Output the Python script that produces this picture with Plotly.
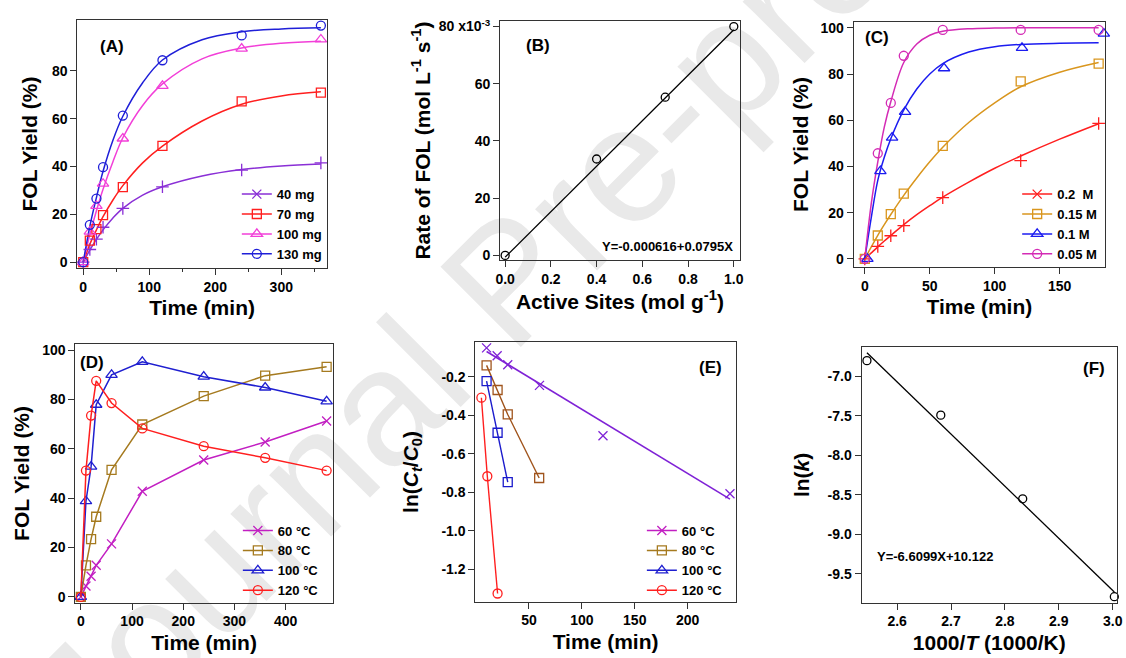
import plotly.graph_objects as go

W, H = 1126, 658
FONT = "Liberation Sans"

# ---------------- data ----------------
# (A) catalyst loading
a_time = [0, 10, 20, 30, 60, 120, 240, 360]
a_40mg = [0, 5.3, 9.6, 14.6, 22.5, 31.5, 38.5, 41.5]
a_70mg = [0, 9.0, 13.8, 19.7, 31.4, 48.6, 67.2, 70.9]
a_100mg = [0, 12.8, 23.5, 32.8, 51.7, 73.7, 89.3, 93.1]
a_130mg = [0, 15.6, 26.6, 39.7, 61.3, 84.4, 94.8, 98.9]
a_fit_time = [0, 10, 20, 30, 45, 60, 90, 120, 180, 240, 300, 360]
a_fit_40mg = [0, 5.0, 9.5, 13.5, 18.5, 22.5, 28.0, 31.5, 36.0, 38.7, 40.2, 41.0]
a_fit_70mg = [0, 7.5, 13.5, 19.0, 26.0, 32.0, 41.5, 48.5, 59.0, 66.0, 69.5, 71.2]
a_fit_100mg = [0, 11.5, 21.5, 30.5, 42.0, 52.0, 65.5, 74.5, 85.0, 89.5, 91.5, 92.3]
a_fit_130mg = [0, 15.0, 27.0, 38.0, 51.0, 61.0, 75.0, 84.5, 93.0, 96.3, 97.5, 98.0]

# (B) rate vs active sites (x1e-3)
b_sites = [0.0, 0.4, 0.7, 1.0]
b_rate = [0.0, 33.7, 55.3, 80.0]
b_fit_sites = [0.0, 1.0]
b_fit_rate = [-0.616, 78.9]

# (C) concentration
c_time = [0, 10, 20, 30, 60, 120, 180]
c_time_01 = [2, 12, 21, 31, 61, 121, 184]
c_02M = [0, 5.4, 10.0, 14.4, 26.5, 42.5, 58.6]
c_015M = [0, 10.1, 19.4, 28.2, 48.9, 76.8, 84.5]
c_01M = [0, 38.0, 52.5, 63.6, 82.5, 91.3, 97.5]
c_005M = [0, 45.7, 67.5, 87.9, 99.1, 99.1, 99.1]
c_fit_time = [0, 5, 10, 15, 20, 30, 40, 50, 60, 80, 100, 120, 150, 180]
c_fit_02M = [0, 2.6, 5.2, 7.7, 10.1, 14.8, 19.1, 23.0, 26.7, 33.2, 39.2, 44.5, 51.8, 58.5]
c_fit_015M = [0, 5.2, 10.2, 14.8, 19.2, 27.5, 35.0, 42.0, 48.3, 59.0, 67.5, 74.5, 80.8, 85.0]
c_fit_01M = [0, 18.0, 34.0, 44.0, 52.0, 64.5, 73.5, 80.0, 84.5, 89.5, 91.8, 92.8, 93.3, 93.5]
c_fit_005M = [0, 24.0, 42.0, 57.0, 68.0, 85.0, 93.0, 96.8, 98.5, 99.6, 99.9, 100.0, 100.0, 100.0]

# (D) temperature
d_time = [0, 10, 20, 30, 60, 120, 240, 360, 480]
d_60C = [0, 4.4, 8.4, 12.8, 21.5, 42.8, 55.5, 62.8, 71.3]
d_80C = [0, 12.8, 23.4, 32.5, 51.5, 69.9, 81.4, 89.7, 93.3]
d_100C = [0, 38.8, 52.8, 77.9, 90.0, 95.3, 89.3, 84.9, 79.3]
d_120C = [0, 51.2, 73.5, 87.6, 78.6, 68.3, 61.1, 56.4, 51.2]

# (E) ln(Ct/C0)
e_time_60C = [10, 20, 30, 60, 120, 240]
e_60C = [-0.049, -0.090, -0.137, -0.244, -0.506, -0.807]
e_fit_time_60C = [10, 240]
e_fit_60C = [-0.068, -0.835]
e_time_80C = [10, 20.4, 30, 59.7]
e_80C = [-0.140, -0.268, -0.395, -0.725]
e_time_100C = [10, 20.4, 30]
e_100C = [-0.222, -0.490, -0.747]
e_time_120C = [5.1, 10.7, 20.4]
e_120C = [-0.308, -0.716, -1.325]

# (F) Arrhenius
f_invT = [2.544, 2.681, 2.833, 3.003]
f_lnk = [-6.80, -7.49, -8.55, -9.79]
f_fit_invT = [2.544, 3.003]
f_fit_lnk = [-6.70, -9.73]

# tick labels
a_xticks = [0, 100, 200, 300]
a_yticks = [0, 20, 40, 60, 80]
b_xticks = [0.0, 0.2, 0.4, 0.6, 0.8, 1.0]
b_xticktext = ["0.0", "0.2", "0.4", "0.6", "0.8", "1.0"]
b_yticks = [0, 20, 40, 60, 80]
b_yticktext = ["0", "20", "40", "60", "80 x10<sup>-3</sup>"]
c_xticks = [0, 50, 100, 150]
c_yticks = [0, 20, 40, 60, 80, 100]
d_xticks = [0, 100, 200, 300, 400]
d_yticks = [0, 20, 40, 60, 80, 100]
e_xticks = [50, 100, 150, 200]
e_yticks = [-1.2, -1.0, -0.8, -0.6, -0.4, -0.2]
e_yticktext = ["-1.2", "-1.0", "-0.8", "-0.6", "-0.4", "-0.2"]
f_xticks = [2.6, 2.7, 2.8, 2.9, 3.0]
f_xticktext = ["2.6", "2.7", "2.8", "2.9", "3.0"]
f_yticks = [-9.5, -9.0, -8.5, -8.0, -7.5, -7.0]
f_yticktext = ["-9.5", "-9.0", "-8.5", "-8.0", "-7.5", "-7.0"]

# ---------------- layout helpers ----------------
def xd(p0, p1):
    return [p0 / W, p1 / W]

def yd(top, bottom):
    return [1 - bottom / H, 1 - top / H]

fig = go.Figure()

def mk(symbol, color, size=9, lw=1.3):
    return dict(symbol=symbol, size=size, color=color, line=dict(color=color, width=lw))

def data_tr(x, y, ax, symbol, color, mode="markers", size=9, lw=1.4, name="data"):
    fig.add_trace(go.Scatter(x=x, y=y, mode=mode, xaxis="x" + ax, yaxis="y" + ax,
                             marker=mk(symbol, color, size), line=dict(color=color, width=lw),
                             showlegend=False, cliponaxis=False, name=name))

def fit_tr(x, y, ax, color, shape="linear", lw=1.5):
    fig.add_trace(go.Scatter(x=x, y=y, mode="lines", xaxis="x" + ax, yaxis="y" + ax,
                             line=dict(color=color, width=lw, shape=shape, smoothing=1.0),
                             showlegend=False, hoverinfo="skip", name="fit"))

def leg_tr(name, ax, symbol, color, legend, size=9):
    fig.add_trace(go.Scatter(x=[None], y=[None], mode="lines+markers", name=name,
                             xaxis="x" + ax, yaxis="y" + ax, legend=legend,
                             marker=mk(symbol, color, size), line=dict(color=color, width=1.5)))

# colours
A_C = {"40": "#8a2fd6", "70": "#ff1f1f", "100": "#f23fd8", "130": "#1f1fd8"}
C_C = {"02": "#ff1f1f", "015": "#d9961e", "01": "#1c1cf0", "005": "#d42bb5"}
D_C = {"60": "#c21fc2", "80": "#a57a1f", "100": "#1f1fd0", "120": "#ff1f1f"}
E_C = {"60": "#7f22d6", "80": "#a0541c", "100": "#1a1acc", "120": "#ff1f1f"}

# ---- (A) ----
for fy, c in [(a_fit_40mg, A_C["40"]), (a_fit_70mg, A_C["70"]),
              (a_fit_100mg, A_C["100"]), (a_fit_130mg, A_C["130"])]:
    fit_tr(a_fit_time, fy, "", c, shape="spline")
data_tr(a_time, a_40mg, "", "cross-thin", A_C["40"], size=9)
data_tr(a_time, a_70mg, "", "square-open", A_C["70"])
data_tr(a_time, a_100mg, "", "triangle-up-open", A_C["100"], size=10)
data_tr(a_time, a_130mg, "", "circle-open", A_C["130"])
leg_tr("40 mg", "", "x-thin", A_C["40"], "legend")
leg_tr("70 mg", "", "square-open", A_C["70"], "legend")
leg_tr("100 mg", "", "triangle-up-open", A_C["100"], "legend", size=10)
leg_tr("130 mg", "", "circle-open", A_C["130"], "legend")

# ---- (B) ----
fit_tr(b_fit_sites, b_fit_rate, "2", "black", lw=1.3)
data_tr(b_sites, b_rate, "2", "circle-open", "black", size=8)

# ---- (C) ----
for fy, c in [(c_fit_02M, C_C["02"]), (c_fit_015M, C_C["015"]),
              (c_fit_01M, C_C["01"]), (c_fit_005M, C_C["005"])]:
    fit_tr(c_fit_time, fy, "3", c, shape="spline")
data_tr(c_time, c_02M, "3", "cross-thin", C_C["02"])
data_tr(c_time, c_015M, "3", "square-open", C_C["015"])
data_tr(c_time_01, c_01M, "3", "triangle-up-open", C_C["01"], size=10)
data_tr(c_time, c_005M, "3", "circle-open", C_C["005"])
leg_tr("0.2  M", "3", "x-thin", C_C["02"], "legend2")
leg_tr("0.15 M", "3", "square-open", C_C["015"], "legend2")
leg_tr("0.1 M", "3", "triangle-up-open", C_C["01"], "legend2", size=10)
leg_tr("0.05 M", "3", "circle-open", C_C["005"], "legend2")

# ---- (D) ----
for nm, yv, sym, key, sz in [("60 °C", d_60C, "x-thin", "60", 9),
                             ("80 °C", d_80C, "square-open", "80", 9),
                             ("100 °C", d_100C, "triangle-up-open", "100", 10),
                             ("120 °C", d_120C, "circle-open", "120", 9)]:
    fig.add_trace(go.Scatter(x=d_time, y=yv, mode="lines+markers", name=nm,
                             xaxis="x4", yaxis="y4", legend="legend3", cliponaxis=False,
                             marker=mk(sym, D_C[key], sz), line=dict(color=D_C[key], width=1.5)))

# ---- (E) ----
fit_tr(e_fit_time_60C, e_fit_60C, "5", E_C["60"], lw=1.6)
data_tr(e_time_60C, e_60C, "5", "x-thin", E_C["60"])
data_tr(e_time_80C, e_80C, "5", "square-open", E_C["80"], mode="lines+markers")
data_tr(e_time_100C, e_100C, "5", "square-open", E_C["100"], mode="lines+markers")
data_tr(e_time_120C, e_120C, "5", "circle-open", E_C["120"], mode="lines+markers")
leg_tr("60 °C", "5", "x-thin", D_C["60"], "legend4")
leg_tr("80 °C", "5", "square-open", D_C["80"], "legend4")
leg_tr("100 °C", "5", "triangle-up-open", D_C["100"], "legend4", size=10)
leg_tr("120 °C", "5", "circle-open", D_C["120"], "legend4")

# ---- (F) ----
fit_tr(f_fit_invT, f_fit_lnk, "6", "black", lw=1.3)
data_tr(f_invT, f_lnk, "6", "circle-open", "black", size=8)

# ---------------- axes ----------------
TICKF = dict(family=FONT, size=14, color="black", weight="bold")
TITLEF = dict(family=FONT, size=21, color="black", weight="bold")

def axis(domain, rng, tickvals, ticktext=None, title="", anchor="", minor_vals=None, standoff=6):
    d = dict(domain=domain, range=rng, tickvals=tickvals, ticks="outside", ticklen=6,
             tickcolor="#333", tickwidth=1, showline=True, linecolor="#333", linewidth=1,
             mirror=True, showgrid=False, zeroline=False, tickfont=TICKF,
             title=dict(text=title, font=TITLEF, standoff=standoff), anchor=anchor)
    if ticktext is not None:
        d["ticktext"] = ticktext
    if minor_vals is not None:
        d["minor"] = dict(tickvals=minor_vals, ticks="outside", ticklen=3, tickcolor="#333")
    return d

layout = dict(
    width=W, height=H, margin=dict(l=0, r=0, t=0, b=0),
    paper_bgcolor="white", plot_bgcolor="rgba(0,0,0,0)",
    font=dict(family=FONT, color="black"),
    xaxis=axis(xd(73, 325), [-9, 369], a_xticks, title="Time (min)", anchor="y",
               minor_vals=[50, 150, 250, 350]),
    yaxis=axis(yd(16, 267), [-2.5, 101.3], a_yticks, title="FOL Yield (%)", anchor="x",
               standoff=8),
    xaxis2=axis(xd(500, 742), [-0.022, 1.026], b_xticks, b_xticktext,
                title="Active Sites (mol g<sup>-1</sup>)", anchor="y2"),
    yaxis2=axis(yd(17, 259), [-1.7, 82], b_yticks, b_yticktext,
                title="Rate of FOL (mol L<sup>-1</sup> s<sup>-1</sup>)", anchor="x2",
                standoff=2),
    xaxis3=axis(xd(857, 1111), [-8.6, 185], c_xticks, title="Time (min)", anchor="y3"),
    yaxis3=axis(yd(18, 266), [-3.6, 102.6], c_yticks, title="FOL Yield (%)", anchor="x3"),
    xaxis4=axis(xd(71, 331), [-10.8, 492], d_xticks, title="Time (min)", anchor="y4"),
    yaxis4=axis(yd(344, 605), [-2.3, 102.4], d_yticks, title="FOL Yield (%)", anchor="x4"),
    xaxis5=axis(xd(475, 738), [-0.6, 245.5], e_xticks, title="Time (min)", anchor="y5"),
    yaxis5=axis(yd(342, 604), [-1.367, -0.0205], e_yticks, e_yticktext,
                title="ln(<i>C<sub>t</sub></i>/<i>C</i><sub>0</sub>)", anchor="x5",
                standoff=17),
    xaxis6=axis(xd(865, 1123), [2.534, 3.008], f_xticks, f_xticktext,
                title="1000/<i>T</i> (1000/K)", anchor="y6"),
    yaxis6=axis(yd(347, 605), [-9.864, -6.631], f_yticks, f_yticktext,
                title="ln(<i>k</i>)", anchor="x6", standoff=12),
)

LEGF = dict(family=FONT, size=13, color="black", weight="bold")

def legend(xr, yb):
    return dict(x=xr / W, y=1 - yb / H, xanchor="right", yanchor="bottom",
                bgcolor="rgba(0,0,0,0)", font=LEGF, itemwidth=30, tracegroupgap=0)

layout["legend"] = legend(325, 268)
layout["legend2"] = legend(1108, 268)
layout["legend3"] = legend(322, 608)
layout["legend4"] = legend(730, 608)

LBLF = dict(family=FONT, size=17, color="black", weight="bold")
EQF = dict(family=FONT, size=13, color="black", weight="bold")
ann = []
for txt, px, py in [("(A)", 108, 43), ("(B)", 538, 42), ("(C)", 881, 34),
                    ("(D)", 88, 362), ("(E)", 712, 367), ("(F)", 1100, 368)]:
    ann.append(dict(text=txt, x=px / W, y=1 - py / H, xref="paper", yref="paper",
                    showarrow=False, font=LBLF, xanchor="center", yanchor="middle"))
ann.append(dict(text="Y=-0.000616+0.0795X", x=737 / W, y=1 - 245 / H, xref="paper",
                yref="paper", showarrow=False, font=EQF, xanchor="right", yanchor="middle"))
ann.append(dict(text="Y=-6.6099X+10.122", x=879 / W, y=1 - 558 / H, xref="paper",
                yref="paper", showarrow=False, font=EQF, xanchor="left", yanchor="middle"))
layout["annotations"] = ann

# watermark (behind the data)
layout["shapes"] = [dict(type="rect", xref="paper", yref="paper",
                         x0=485 / W, x1=505 / W, y0=1 - 278 / H, y1=1 - 258 / H,
                         line=dict(width=0), fillcolor="rgba(0,0,0,0)", layer="below",
                         label=dict(text="Journal Pre-proof", textangle=-45,
                                    textposition="middle center",
                                    font=dict(family=FONT, size=165, color="#e9e9e9")))]

fig.update_layout(**layout)
fig.write_html("out.html")
